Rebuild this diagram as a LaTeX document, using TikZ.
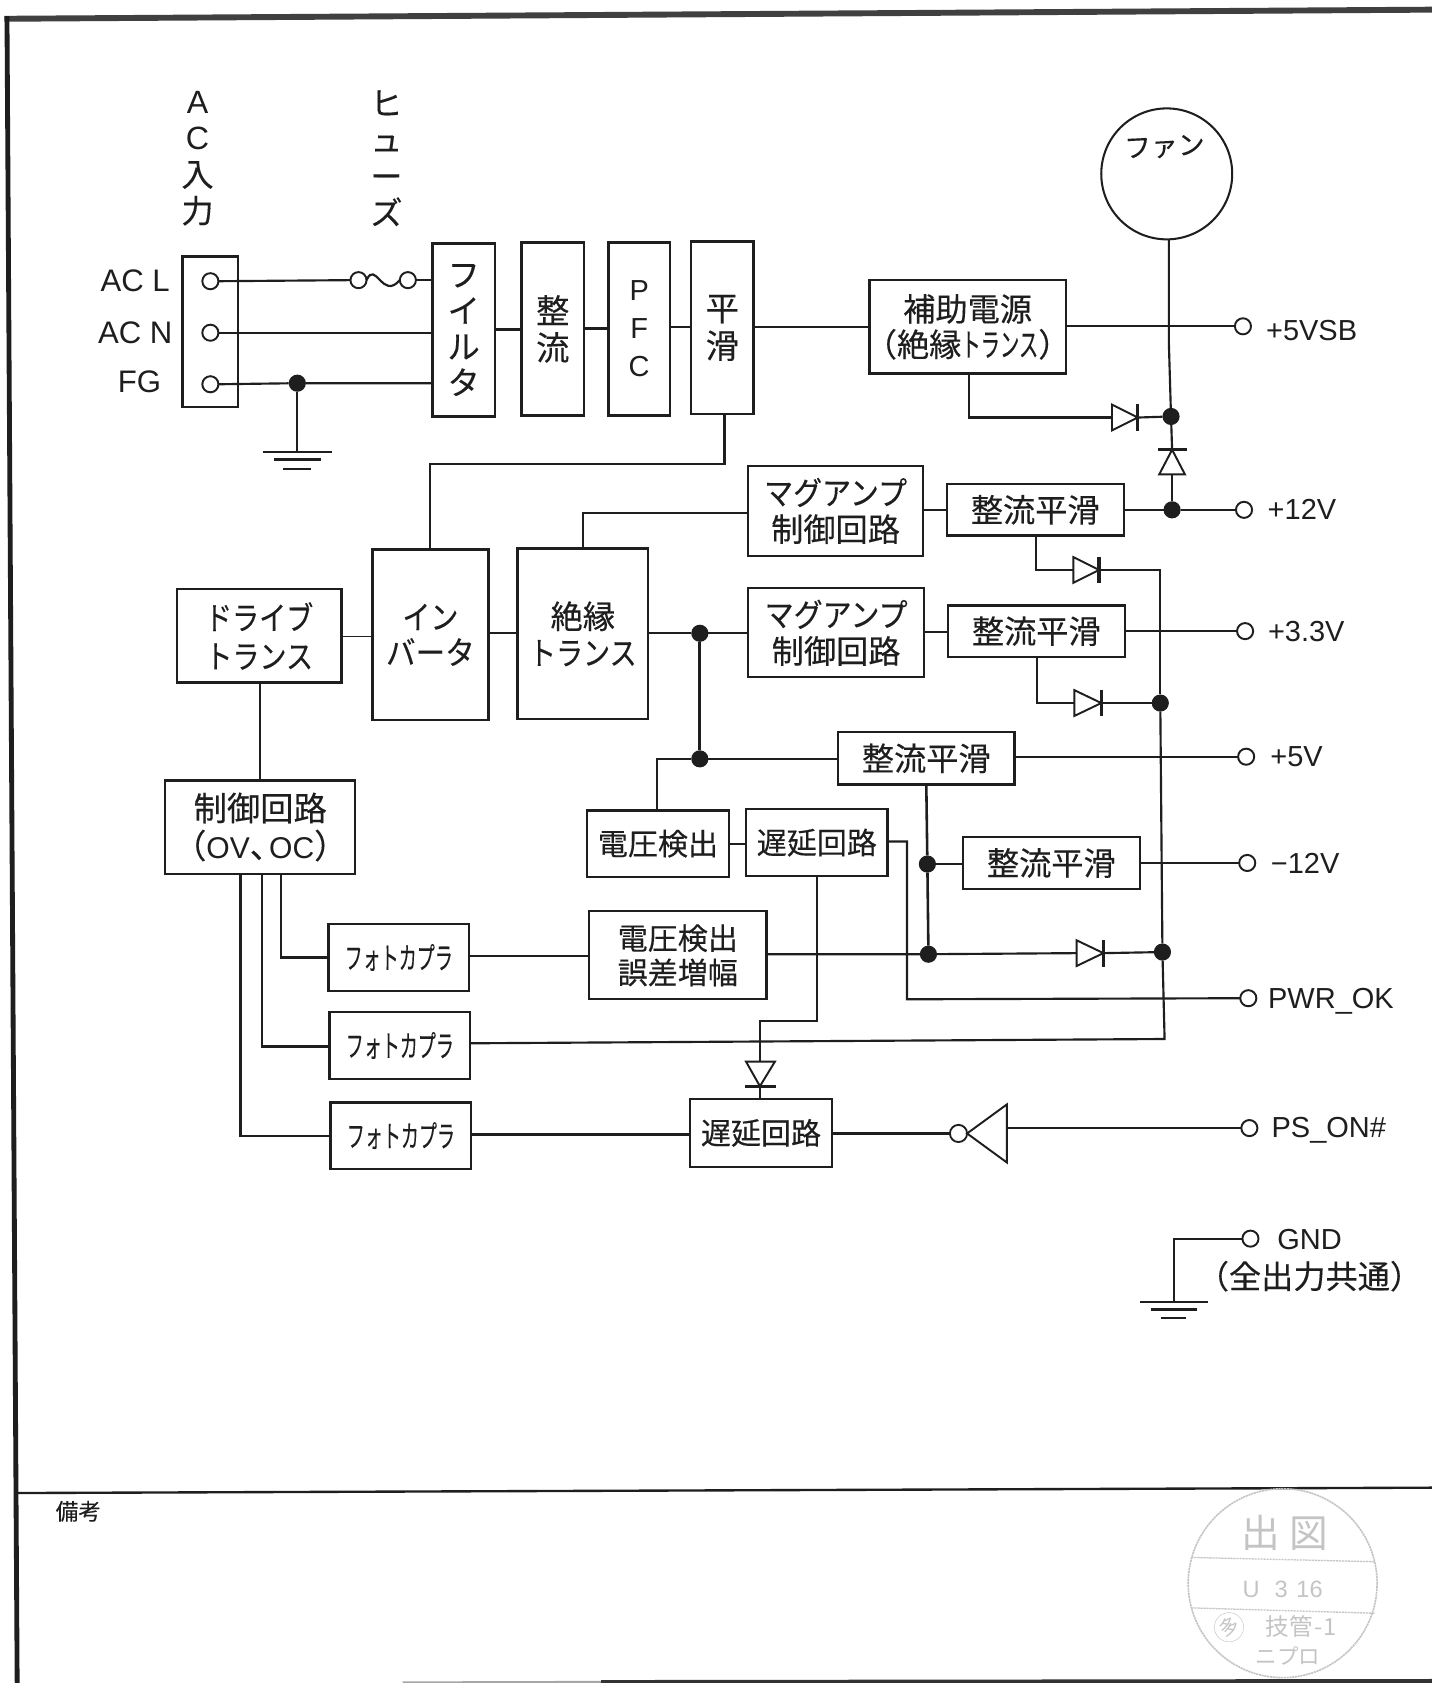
\documentclass[tikz,border=0pt]{standalone}
\usepackage{fontspec}
\setmainfont{Liberation Sans}
\newfontfamily\jp[FakeBold=0.25]{Noto Sans CJK JP}
\newfontfamily\jpl{Noto Sans CJK JP}
\definecolor{ink}{HTML}{1E1E1E}
\definecolor{stampc}{HTML}{C4C4C4}
\newcommand\blk[7][]{%
  \pgfmathsetmacro\bkw{#5-#3}\pgfmathsetmacro\bkh{#6-#4}%
  \pgfmathsetmacro\bkx{(#3+#5)/2}\pgfmathsetmacro\bky{(#4+#6)/2}%
  \node[blockbox,minimum width=\bkw pt,minimum height=\bkh pt,#1] (#2) at (\bkx,\bky) {#7};}
% horizontal diode, anode at left
\newcommand\diodeH[4]{%
  \coordinate (#1a) at (#2,#4);\coordinate (#1k) at (#3,#4);
  \draw[diodeline,fill=white] (#2,#4-12) -- (#3,#4) -- (#2,#4+12) -- cycle;
  \draw[diodebar] (#3,#4-12.5) -- (#3,#4+12.5);}
\tikzset{
  wire/.style={draw=ink,line width=2pt,line join=miter},
  thinwire/.style={draw=ink,line width=1.8pt},
  blockbox/.style={draw=ink,line width=2.2pt,fill=white,inner sep=0pt,outer sep=0pt,align=center,text=ink},
  dotn/.style={circle,fill=ink,draw=none,minimum size=16pt,inner sep=0pt,outer sep=0pt},
  term/.style={circle,draw=ink,line width=1.8pt,fill=white,minimum size=15pt,inner sep=0pt,outer sep=0pt},
  lbl/.style={text=ink,inner sep=0pt,font=\fontsize{27}{32}\selectfont},
  jpa/.style={font=\jp\fontsize{30}{33}\selectfont},
  jpb/.style={font=\jp\fontsize{30}{34}\selectfont},
  jpc/.style={font=\jp\fontsize{28}{32}\selectfont},
  diodeline/.style={draw=ink,line width=1.8pt,line join=miter},
  diodebar/.style={draw=ink,line width=3.2pt},
  gndline/.style={draw=ink,line width=2.2pt},
}
\newcommand\pc{\scalebox{0.6}[1]{フォトカプラ}}
\newcommand\kn[1]{\scalebox{0.87}[1]{#1}}
\begin{document}
\begin{tikzpicture}[x=1pt,y=-1pt]
\useasboundingbox (0,0) rectangle (1334,1568);
\fill[white] (0,0) rectangle (1334,1568);
% sheet frame
\draw[draw=black!75,line width=5.5pt] (4,17.5) -- (1334,9);
\draw[draw=ink,line width=4.5pt] (6.5,15) -- (16,1568);
\draw[draw=ink,line width=2.2pt] (17,1391) -- (1334,1386);
\draw[draw=black!35,line width=2pt] (375,1567.5) -- (560,1567);
\draw[draw=black!80,line width=3.5pt] (560,1567) -- (1334,1566);
\node[text=ink,inner sep=0pt,font=\jp\fontsize{21}{24}\selectfont] (biko) at (73,1408) {備考};
% AC input
\node[text=ink,inner sep=0pt,font=\jp\fontsize{30}{34}\selectfont,align=center] (acin) at (184,147.5) {\fontspec{Liberation Sans}A\\\fontspec{Liberation Sans}C\\入\\力};
\node[text=ink,inner sep=0pt,font=\jp\fontsize{30}{34}\selectfont,align=center] (fusel) at (360,147.5) {ヒ\\ュ\\ー\\ズ};
\blk{acbox}{170}{239}{222}{379}{}
\node[term] (tl) at (196,262) {};
\node[term] (tn) at (196,310) {};
\node[term] (tg) at (196,358) {};
\node[lbl,font=\fontsize{29}{32}\selectfont] (lacl) at (126,262) {AC L};
\node[lbl,font=\fontsize{29}{32}\selectfont] (lacn) at (126,310) {AC N};
\node[lbl,font=\fontsize{29}{32}\selectfont] (lfg) at (130,356) {FG};
% power chain
\blk[font=\jp\fontsize{30}{33.5}\selectfont]{filt}{403}{227}{461}{388}{フ\\イ\\ル\\タ}
\blk[font=\jp\fontsize{31}{34.5}\selectfont]{seiryu}{486}{226}{544}{387}{整\\流}
\blk[font=\fontsize{27}{35.5}\selectfont]{pfc}{567}{226}{624}{387}{P\\F\\C}
\blk[font=\jp\fontsize{31}{35}\selectfont]{heik}{644}{225}{702}{386}{平\\滑}
\blk[jpa]{aux}{810}{261}{993}{348}{補助電源\\\kern-13pt（絶縁\scalebox{0.6}[1]{トランス}）\kern-13pt}
% fuse
\node[circle,draw=ink,line width=1.8pt,minimum size=15pt,inner sep=0pt,outer sep=0pt] (fa) at (334,261) {};
\node[circle,draw=ink,line width=1.8pt,minimum size=15pt,inner sep=0pt,outer sep=0pt] (fb) at (380,261) {};
\draw[wire] (fa.east) .. controls (350,242) and (356,280) .. (fb.west);
\draw[wire] (tl.east) -- (fa.west);
\draw[wire] (fb.east) -- (filt.west|-fb.east);
\draw[wire] (tn.east) -- (filt.west|-tn.east);
\node[dotn] (jg) at (277,357) {};
\draw[wire] (tg.east) -- (jg) -- (filt.west|-jg);
\coordinate (gnd1) at (277,421);
\draw[thinwire] (jg) -- (gnd1);
\draw[gndline] (245,421) -- (309,421) (255,428) -- (299,428);
\draw[gndline] (264,437) -- (290,437);
\draw[wire] (filt.east|-0,307) -- (seiryu.west|-0,307);
\draw[wire] (seiryu.east|-0,306) -- (pfc.west|-0,306);
\draw[wire] (pfc.east|-0,305) -- (heik.west|-0,305);
\draw[wire] (heik.east|-0,305) -- (aux.west|-0,305);
% fan and standby
\node[circle,draw=ink,line width=1.9pt,minimum size=122pt,inner sep=0pt,outer sep=0pt] (fan) at (1087,162) {};
\node[text=ink,inner sep=0pt,font=\jp\fontsize{25}{30}\selectfont,rotate=3] (fanl) at (1085,137) {ファン};
\node[term] (t5vsb) at (1158,304) {};
\node[lbl] (l5vsb) at (1222,308) {+5VSB};
\draw[wire] (aux.east|-t5vsb) -- (t5vsb.west);
\node[dotn] (j5) at (1091,388) {};
\node[dotn] (j12) at (1092,475) {};
\draw[wire] (1089,223) -- (1089,320) -- (j5);
\diodeH{d1}{1036}{1060}{389}
\draw[wire] (aux.south-|903,0) -- (903,389) -- (d1a);
\draw[wire] (d1k) -- (j5);
% vertical diode (cathode up)
\coordinate (d2k) at (1092,419); \coordinate (d2a) at (1092,442);
\draw[wire] (j5) -- (d2k);
\draw[wire] (d2a) -- (j12);
\draw[diodeline,fill=white] (1080,442) -- (d2k) -- (1104,442) -- cycle;
\draw[diodebar,line width=2.8pt] (1079,419) -- (1106,419);
% 12V rail
\blk[jpa]{rect1}{882}{451}{1047}{499}{整流平滑}
\blk[jpb]{mag1}{697}{434}{860}{518}{\scalebox{0.9}[1]{マグアンプ}\\制御回路}
\blk[font=\jp\fontsize{30}{34}\selectfont]{iso}{482}{511}{604}{670}{絶縁\\\scalebox{0.84}[1]{トランス}}
\blk[jpa]{inv}{347}{512}{455}{671}{\kn{イン}\\\scalebox{0.92}[1]{バータ}}
\blk[font=\jp\fontsize{30}{36}\selectfont]{drv}{165}{549}{318}{636}{\scalebox{0.84}[1]{ドライブ}\\\scalebox{0.84}[1]{トランス}}
\blk[font=\jp\fontsize{31}{35}\selectfont]{ctl}{154}{727}{331}{814}{制御回路\\\kern-14pt（\fontspec{Liberation Sans}\fontsize{28}{35}\selectfont OV{\jp\fontsize{31}{35}\selectfont 、}\kern-13pt OC{\jp\fontsize{31}{35}\selectfont ）}\kern-14pt}
\node[term] (t12) at (1159,475) {};
\node[lbl] (l12) at (1213,475) {+12V};
\draw[wire] (rect1.east|-j12) -- (j12) -- (t12.west);
\draw[thinwire] (mag1.east|-rect1) -- (rect1.west);
\draw[wire] (mag1.west|-0,478) -- (543,478) -- (iso.north-|543,0);
\draw[wire] (heik.south-|675,0) -- (675,432) -- (401,432) -- (inv.north-|401,0);
\draw[wire] (inv.east|-0,590) -- (iso.west|-0,590);
\draw[thinwire] (drv.east|-0,593) -- (inv.west|-0,593);
\draw[thinwire] (drv.south-|242,0) -- (ctl.north-|242,0);
% 3.3V rail
\blk[jpb]{mag2}{697}{548}{861}{631}{\scalebox{0.9}[1]{マグアンプ}\\制御回路}
\blk[jpa]{rect2}{883}{564}{1048}{612}{整流平滑}
\node[term] (t33) at (1160,588) {};
\node[lbl] (l33) at (1217,588) {+3.3V};
\node[dotn] (jt) at (652,590) {};
\node[dotn] (jb) at (652,707) {};
\draw[wire] (iso.east|-jt) -- (jt) -- (mag2.west|-jt);
\draw[draw=ink,line width=2.8pt] (jt) -- (jb);
\draw[thinwire] (mag2.east|-0,589) -- (rect2.west|-0,589);
\draw[wire] (rect2.east|-t33) -- (t33.west);
\diodeH{d3}{1000}{1024}{531}
\diodeH{d4}{1001}{1026}{655}
\node[dotn] (j33) at (1081,655) {};
\node[dotn] (jd) at (1083,887) {};
\draw[wire] (rect1.south-|965,0) -- (965,531) -- (d3a);
\draw[wire] (d3k) -- (1081,531) -- (j33);
\draw[wire] (rect2.south-|966,0) -- (966,655) -- (d4a);
\draw[wire] (d4k) -- (j33);
\draw[wire] (j33) -- (jd);
% 5V rail
\blk[jpa]{rect3}{781}{682}{945}{731}{整流平滑}
\node[term] (t5) at (1161,705) {};
\node[lbl] (l5) at (1208,705) {+5V};
\draw[wire] (jb) -- (rect3.west|-jb);
\draw[wire] (rect3.east|-t5) -- (t5.west);
\blk[jpc]{vdet}{547}{755}{679}{817}{電圧検出}
\blk[jpc]{dly1}{695}{754}{827}{816}{遅延回路}
\draw[wire] (jb) -- (612,707) -- (vdet.north-|612,0);
\draw[thinwire] (vdet.east|-0,786) -- (dly1.west|-0,786);
% -12V rail
\blk[jpa]{rect4}{897}{780}{1062}{828}{整流平滑}
\node[term] (tm12) at (1162,804) {};
\node[lbl] (lm12) at (1216,804) {−12V};
\node[dotn] (j4) at (864,805) {};
\node[dotn] (j6) at (865,889) {};
\draw[draw=ink,line width=2.4pt] (rect3.south-|863,0) -- (j4) -- (j6);
\draw[wire] (j4) -- (rect4.west|-j4);
\draw[wire] (rect4.east|-tm12) -- (tm12.west);
% PWR_OK
\node[term] (tpw) at (1163,930) {};
\node[lbl] (lpw) at (1240,933) {PWR\_OK};
\draw[wire] (dly1.east|-0,784) -- (845,784) -- (845,931) -- (tpw.west);
% photocouplers
\blk[jpc]{err}{549}{849}{714}{931}{電圧検出\\誤差増幅}
\blk[jpc]{pc1}{306}{861}{437}{923}{\pc}
\blk[jpc]{pc2}{307}{943}{438}{1005}{\pc}
\blk[jpc]{pc3}{308}{1027}{439}{1089}{\pc}
\blk[jpc]{dly2}{643}{1024}{775}{1087}{遅延回路}
\diodeH{d5}{1003}{1028}{888}
\draw[wire] (err.east|-j6) -- (j6) -- (d5a);
\draw[wire] (d5k) -- (jd);
\draw[wire] (pc1.east|-0,891) -- (err.west|-0,891);
\draw[wire] (pc2.east|-0,972) -- (1085,968) -- (jd);
\draw[wire] (pc3.east|-0,1057) -- (dly2.west|-0,1057);
\draw[wire] (ctl.south-|262,0) -- (262,892) -- (pc1.west|-0,892);
\draw[wire] (ctl.south-|244,0) -- (244,975) -- (pc2.west|-0,975);
\draw[wire] (ctl.south-|224,0) -- (224,1058) -- (pc3.west|-0,1058);
% delay diode
\coordinate (d6a) at (708,989); \coordinate (d6k) at (708,1012);
\draw[thinwire] (dly1.south-|761,0) -- (761,951) -- (708,951) -- (d6a);
\draw[thinwire] (d6k) -- (dly2.north-|708,0);
\draw[diodeline,fill=white] (695,989) -- (d6k) -- (722,989) -- cycle;
\draw[diodebar,line width=3.2pt] (694,1012) -- (723,1012);
% inverter
\node[circle,draw=ink,line width=1.7pt,minimum size=16pt,inner sep=0pt,outer sep=0pt] (nb) at (893,1056) {};
\draw[diodeline] (901,1056) -- (938,1029) -- (938,1083) -- cycle;
\coordinate (invin) at (938,1051);
\node[term] (tps) at (1164,1051) {};
\node[lbl] (lps) at (1238,1053) {PS\_ON\#};
\draw[wire] (dly2.east|-nb) -- (nb.west);
\draw[wire] (invin) -- (tps.west);
% GND
\node[term] (tgnd) at (1165,1154) {};
\node[lbl] (lgnd) at (1220,1155) {GND};
\node[text=ink,inner sep=0pt,font=\jp\fontsize{30}{32}\selectfont] (lgnd2) at (1220,1189) {（全出力共通）};
\draw[wire] (tgnd.west) -- (1094,1154) -- (1094,1213);
\draw[gndline] (1062,1213) -- (1125,1213) (1072,1220) -- (1115,1220) (1082,1228) -- (1105,1228);
% stamp
\draw[stampc,line width=1.5pt,dash pattern=on 2pt off 0.6pt] (1195,1475) circle (88);
\draw[stampc,line width=1.2pt,dash pattern=on 2pt off 0.8pt] (1110,1451) -- (1281,1455) (1110,1498) -- (1281,1503);
\node[text=stampc,font=\jpl\fontsize{36}{40}\selectfont,inner sep=0pt] (st1) at (1197,1428) {出\hspace{8pt}図};
\node[text=stampc,font=\fontsize{22}{26}\selectfont,inner sep=0pt] (st2) at (1195,1481) {U\hspace{14pt}3\hspace{8pt}16};
\node[text=stampc,font=\jpl\fontsize{22}{24}\selectfont,inner sep=0pt] (st3) at (1212,1515) {技管\hspace{2pt}-1};
\node[text=stampc,font=\jpl\fontsize{20}{22}\selectfont,inner sep=0pt] (st4) at (1200,1543) {ニプロ};
\node[text=stampc,font=\jpl\fontsize{18}{20}\selectfont,inner sep=1pt,circle,draw=stampc,rotate=25] (st5) at (1145,1516) {多};
\end{tikzpicture}
\end{document}
